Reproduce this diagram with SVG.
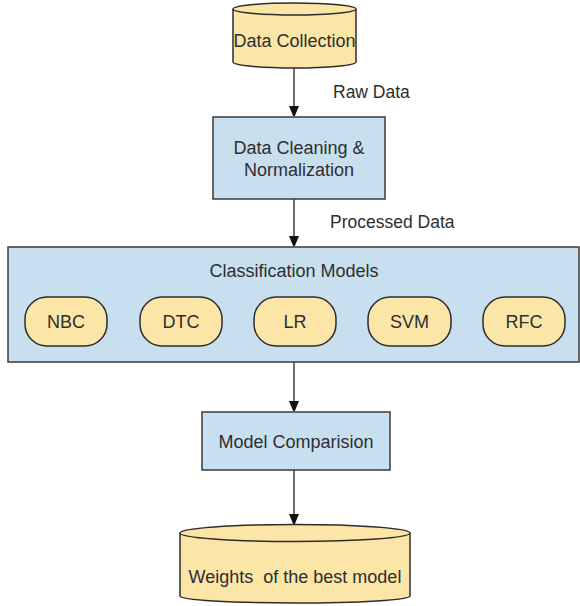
<svg xmlns="http://www.w3.org/2000/svg" width="580" height="606" viewBox="0 0 580 606">
<style>
.y{fill:#fbe6a8;stroke:#2d2d2d;stroke-width:1.5}
.b{fill:#c8dff0;stroke:#3a3a3a;stroke-width:1.5}
.t{font-family:"Liberation Sans",Arial,sans-serif;font-size:18px;fill:#2e2e2e;text-anchor:middle}
.l{font-family:"Liberation Sans",Arial,sans-serif;font-size:17.5px;fill:#2e2e2e}
.c{stroke:#222;stroke-width:1.3;fill:none}
</style>
<defs>
<marker id="a" markerWidth="10" markerHeight="12" refX="10" refY="5" orient="auto" markerUnits="userSpaceOnUse">
<path d="M0,0 L12,5 L0,10 Z" fill="#111"/>
</marker>
</defs>
<rect width="580" height="606" fill="#fff"/>
<g id="connectors">
<line class="c" x1="294" y1="68" x2="294" y2="116" marker-end="url(#a)"/>
<line class="c" x1="294" y1="199" x2="294" y2="246" marker-end="url(#a)"/>
<line class="c" x1="294" y1="362" x2="294" y2="411" marker-end="url(#a)"/>
<line class="c" x1="294" y1="470" x2="294" y2="524" marker-end="url(#a)"/>
<text class="l" x="333" y="98">Raw Data</text>
<text class="l" x="330" y="228">Processed Data</text>
</g>
<g id="data-collection">
<path class="y" d="M233,9 L233,62 A61.5,6 0 0 0 356,62 L356,9"/>
<ellipse class="y" cx="294.5" cy="9" rx="61.5" ry="6"/>
<text class="t" x="294.5" y="47">Data Collection</text>
</g>
<g id="data-cleaning">
<rect class="b" x="213" y="117" width="172" height="82"/>
<text class="t" x="299" y="154">Data Cleaning &amp;</text>
<text class="t" x="299" y="176">Normalization</text>
</g>
<g id="classification-models">
<rect class="b" x="8" y="247" width="571" height="115"/>
<text class="t" x="294" y="277">Classification Models</text>
</g>
<g id="nbc"><rect class="y" x="25" y="297" width="82" height="49" rx="22"/><text class="t" x="66" y="328">NBC</text></g>
<g id="dtc"><rect class="y" x="140" y="297" width="82" height="49" rx="22"/><text class="t" x="181" y="328">DTC</text></g>
<g id="lr"><rect class="y" x="254" y="297" width="82" height="49" rx="22"/><text class="t" x="295" y="328">LR</text></g>
<g id="svm"><rect class="y" x="368" y="297" width="83" height="49" rx="22"/><text class="t" x="409.5" y="328">SVM</text></g>
<g id="rfc"><rect class="y" x="483" y="297" width="82" height="49" rx="22"/><text class="t" x="524" y="328">RFC</text></g>
<g id="model-comparision">
<rect class="b" x="202" y="412" width="188" height="58"/>
<text class="t" x="296" y="448">Model Comparision</text>
</g>
<g id="weights">
<path class="y" d="M180,533 L180,596 A115,7 0 0 0 410,596 L410,533"/>
<ellipse class="y" cx="295" cy="533" rx="115" ry="8.5"/>
<text class="t" x="295" y="583" xml:space="preserve">Weights  of the best model</text>
</g>
</svg>
